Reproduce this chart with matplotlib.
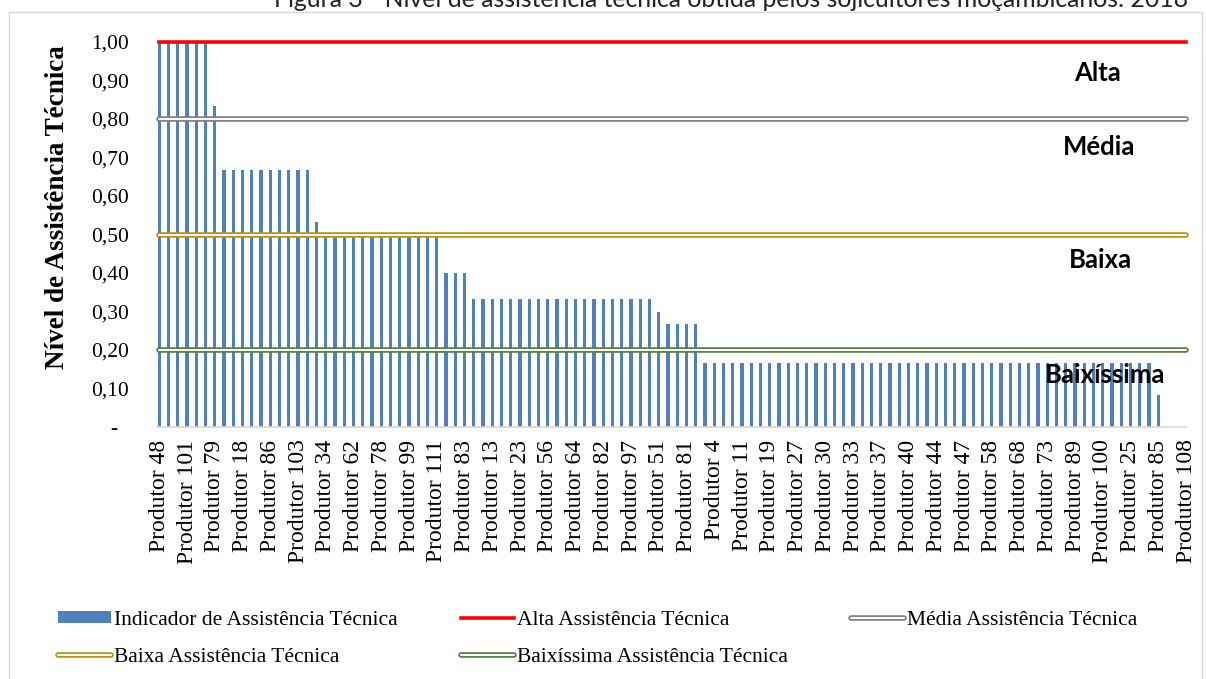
import matplotlib
matplotlib.use("Agg")
import matplotlib.pyplot as plt
from matplotlib.patches import Patch
from matplotlib.lines import Line2D
from matplotlib.legend_handler import HandlerTuple
import numpy as np

# valores do indicador por produtor (112 produtores, ordenados)
valores = [
    1.00, 1.00, 1.00, 1.00, 1.00, 1.00, 0.833, 0.667,
    0.667, 0.667, 0.667, 0.667, 0.667, 0.667, 0.667, 0.667,
    0.667, 0.533, 0.50, 0.50, 0.50, 0.50, 0.50, 0.50,
    0.50, 0.50, 0.50, 0.50, 0.50, 0.50, 0.50, 0.40,
    0.40, 0.40, 0.333, 0.333, 0.333, 0.333, 0.333, 0.333,
    0.333, 0.333, 0.333, 0.333, 0.333, 0.333, 0.333, 0.333,
    0.333, 0.333, 0.333, 0.333, 0.333, 0.333, 0.30, 0.267,
    0.267, 0.267, 0.267, 0.167, 0.167, 0.167, 0.167, 0.167,
    0.167, 0.167, 0.167, 0.167, 0.167, 0.167, 0.167, 0.167,
    0.167, 0.167, 0.167, 0.167, 0.167, 0.167, 0.167, 0.167,
    0.167, 0.167, 0.167, 0.167, 0.167, 0.167, 0.167, 0.167,
    0.167, 0.167, 0.167, 0.167, 0.167, 0.167, 0.167, 0.167,
    0.167, 0.167, 0.167, 0.167, 0.167, 0.167, 0.167, 0.167,
    0.167, 0.167, 0.167, 0.167, 0.083, 0.0, 0.0, 0.0,
]

# rótulos visíveis (um a cada três produtores)
rotulos = [
    "Produtor 48", "Produtor 101", "Produtor 79", "Produtor 18", "Produtor 86",
    "Produtor 103", "Produtor 34", "Produtor 62", "Produtor 78", "Produtor 99",
    "Produtor 111", "Produtor 83", "Produtor 13", "Produtor 23", "Produtor 56",
    "Produtor 64", "Produtor 82", "Produtor 97", "Produtor 51", "Produtor 81",
    "Produtor 4", "Produtor 11", "Produtor 19", "Produtor 27", "Produtor 30",
    "Produtor 33", "Produtor 37", "Produtor 40", "Produtor 44", "Produtor 47",
    "Produtor 58", "Produtor 68", "Produtor 73", "Produtor 89", "Produtor 100",
    "Produtor 25", "Produtor 85", "Produtor 108",
]

# limites das classes
alta = 1.00
media = 0.80
baixa = 0.50
baixissima = 0.20

classes = ["Alta", "Média", "Baixa", "Baixíssima"]
classes_pos = [(0.9145, 0.919), (0.916, 0.727), (0.917, 0.434), (0.921, 0.135)]

W, H = 1206, 679
fig = plt.figure(figsize=(W / 100, H / 100), dpi=100)
ax = fig.add_axes([156.5 / W, 1 - 427 / H, (1186 - 156.5) / W, 385 / H])

serif = "Liberation Serif"
sans = "Lato"

x = np.arange(len(valores))
ax.bar(x, valores, width=0.33, color="#4F81BD", zorder=2)

xs = [x[0], x[-1]]


def linha_dupla(y, cor):
    l1, = ax.plot(xs, [y, y], color=cor, lw=4.0, solid_capstyle="round",
                  zorder=3, clip_on=False)
    l2, = ax.plot(xs, [y, y], color="white", lw=1.5, solid_capstyle="round",
                  zorder=4, clip_on=False)
    return l1, l2


l_alta, = ax.plot(xs, [alta, alta], color="#FF0000", lw=2.6, zorder=3,
                  clip_on=False)
l_media = linha_dupla(media, "#808080")
l_baixa = linha_dupla(baixa, "#BF9000")
l_baixissima = linha_dupla(baixissima, "#548235")

for nome, (px, py) in zip(classes, classes_pos):
    ax.text(px, py, nome, transform=ax.transAxes, ha="center", va="center",
            fontsize=18.5, fontweight="bold", family=sans, color="black",
            zorder=5)

ax.set_xlim(-0.3, len(valores) - 1)
ax.set_ylim(0, 1.0)

ax.set_xticks(x[::3])
ax.set_xticklabels(rotulos, rotation=90, family=serif, fontsize=17)
yt = np.arange(0, 1.01, 0.1)
ax.set_yticks(yt)
ax.set_yticklabels(["-  "] + [f"{v:.2f}".replace(".", ",") for v in yt[1:]],
                   family=serif, fontsize=15.5)
ax.tick_params(axis="both", length=0)
ax.tick_params(axis="y", pad=20)
ax.tick_params(axis="x", pad=9)

for s in ["top", "right", "left"]:
    ax.spines[s].set_visible(False)
ax.spines["bottom"].set_color("#D9D9D9")
ax.spines["bottom"].set_linewidth(1.2)

fig.text(58 / W, 1 - 207 / H, "Nível de Assistência Técnica", rotation=90,
         ha="center", va="center", family=serif, fontsize=19.5,
         fontweight="bold")

fig.text(1188 / W, 1 - 7 / H,
         "Figura 3 - Nível de assistência técnica obtida pelos sojicultores moçambicanos: 2018",
         ha="right", va="baseline", family=sans, fontsize=17.8, color="#222222")

# moldura cinza do gráfico
fig.add_artist(Line2D([9 / W, 1202 / W], [1 - 12 / H, 1 - 12 / H],
                      color="#D9D9D9", lw=1.0))
fig.add_artist(Line2D([9 / W, 9 / W], [1 - 12 / H, 0], color="#D9D9D9", lw=1.0))
fig.add_artist(Line2D([1202 / W, 1202 / W], [1 - 12 / H, 0], color="#D9D9D9",
                      lw=1.0))

p_ind = Patch(facecolor="#4F81BD", edgecolor="none")
handles = [p_ind, l_baixa, l_alta, l_baixissima, l_media]
labels = ["Indicador de Assistência Técnica", "Baixa Assistência Técnica",
          "Alta Assistência Técnica", "Baixíssima Assistência Técnica",
          "Média Assistência Técnica"]
fig.legend(handles, labels, loc="upper left",
           bbox_to_anchor=(58 / W, 1 - 611 / H), ncol=3, frameon=False,
           prop={"family": serif, "size": 15.5}, handlelength=2.45,
           handleheight=0.5, handletextpad=0.15, columnspacing=2.95,
           labelspacing=0.82, borderpad=0, borderaxespad=0,
           handler_map={tuple: HandlerTuple(ndivide=1)})

fig.savefig("out.png", dpi=100)
